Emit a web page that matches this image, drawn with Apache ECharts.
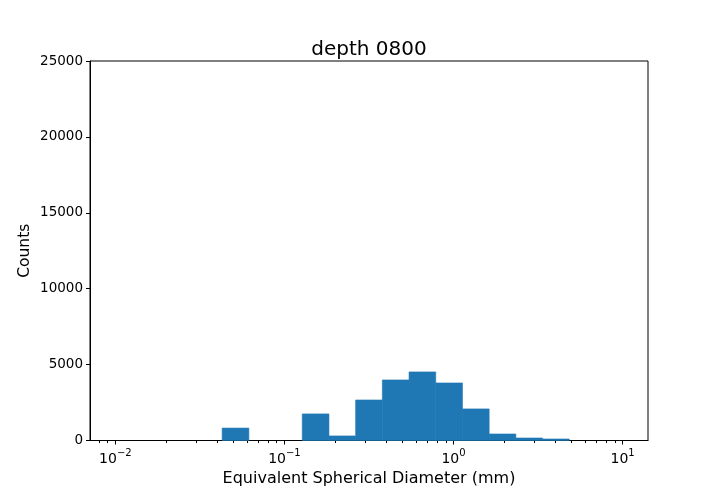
<!DOCTYPE html>
<html>
<head>
<meta charset="utf-8">
<script src="https://cdn.jsdelivr.net/npm/echarts@6/dist/echarts.min.js"></script>
<style>html,body{margin:0;padding:0;background:#fff}#c{width:720px;height:504px}</style>
</head>
<body>
<div id="c"></div>
<script>
// Histogram bin edges (mm), log-spaced from 0.01 to 10
var binEdges = [0.01, 0.01438, 0.02069, 0.02976, 0.04281, 0.06158, 0.08859, 0.12743, 0.18330, 0.26367,
  0.37927, 0.54556, 0.78476, 1.12884, 1.62378, 2.33572, 3.35982, 4.83293, 6.95193, 10];
// Counts per bin
var counts = [0, 0, 0, 0, 820, 0, 0, 1750, 300, 2670, 3990, 4520, 3790, 2080, 430, 165, 100, 0, 0];
var xTickExponents = [-2, -1, 0, 1];
var minorMultipliers = [2, 3, 4, 5, 6, 7, 8, 9];
var yTicks = [0, 5000, 10000, 15000, 20000, 25000];

var FONT = 'DejaVu Sans';
var minorTicks = [];
for (var e = -3; e <= 1; e++) {
  minorMultipliers.forEach(function (m) {
    var v = Math.log10(m) + e;
    if (v > -2.15 && v < 1.15) minorTicks.push(v);
  });
}
var barData = [];
for (var i = 0; i < counts.length; i++) {
  barData.push([Math.log10(binEdges[i]), Math.log10(binEdges[i + 1]), counts[i]]);
}
function sup(n) { return String(n).replace('-', '\u2212'); }

var chart = echarts.init(document.getElementById('c'), null, {renderer: 'canvas'});
chart.setOption({
  animation: false,
  title: {
    text: 'depth 0800', left: 364, top: 35, textAlign: 'center',
    textStyle: {fontFamily: FONT, fontSize: 20, fontWeight: 'normal', color: '#000'}
  },
  grid: {left: 90, right: 72, top: 61, bottom: 63.5, show: true, borderColor: '#000', borderWidth: 1, backgroundColor: 'transparent'},
  xAxis: [{
    type: 'value', min: -2.15, max: 1.15,
    name: 'Equivalent Spherical Diameter (mm)', nameLocation: 'middle', nameGap: 30,
    nameMoveOverlap: false,
    nameTextStyle: {fontFamily: FONT, fontSize: 16, color: '#000'},
    axisLine: {show: true, onZero: false, lineStyle: {color: '#000'}},
    splitLine: {show: false},
    axisTick: {show: true, customValues: xTickExponents, length: 4, lineStyle: {color: '#000'}},
    axisLabel: {
      customValues: xTickExponents, margin: 8, color: '#000',
      formatter: function (v) { return '{b|10}{s|' + sup(Math.round(v)) + '}'; },
      rich: {
        b: {fontFamily: FONT, fontSize: 14, color: '#000', verticalAlign: 'bottom', lineHeight: 18},
        s: {fontFamily: FONT, fontSize: 10, color: '#000', verticalAlign: 'top', padding: [0, 0, 6, 0], lineHeight: 18}
      }
    }
  }, {
    type: 'value', min: -2.15, max: 1.15, position: 'bottom', gridIndex: 0,
    axisLine: {show: false, onZero: false}, splitLine: {show: false},
    axisTick: {show: true, customValues: minorTicks, length: 2.5, lineStyle: {color: '#000'}},
    axisLabel: {show: false}
  }],
  yAxis: {
    type: 'value', min: 0, max: 25000, interval: 5000,
    name: 'Counts', nameLocation: 'middle', nameGap: 57, nameRotate: 90,
    nameMoveOverlap: false,
    nameTextStyle: {fontFamily: FONT, fontSize: 15.5, color: '#000'},
    axisLine: {show: true, onZero: false, lineStyle: {color: '#000'}},
    splitLine: {show: false},
    axisTick: {show: true, length: 4, lineStyle: {color: '#000'}},
    axisLabel: {fontFamily: FONT, fontSize: 13.5, color: '#000', margin: 7,
      formatter: function (v) { return String(v); }}
  },
  series: [{
    type: 'custom', xAxisIndex: 0,
    encode: {x: [0, 1], y: 2},
    data: barData,
    renderItem: function (params, api) {
      var c = api.value(2);
      if (!c) return null;
      var p1 = api.coord([api.value(0), c]);
      var p2 = api.coord([api.value(1), 0]);
      return {
        type: 'rect',
        shape: {x: p1[0], y: p1[1], width: p2[0] - p1[0], height: p2[1] - p1[1]},
        style: {fill: '#1f77b4', stroke: '#1f77b4', lineWidth: 0.6}
      };
    }
  }]
});
</script>
</body>
</html>
